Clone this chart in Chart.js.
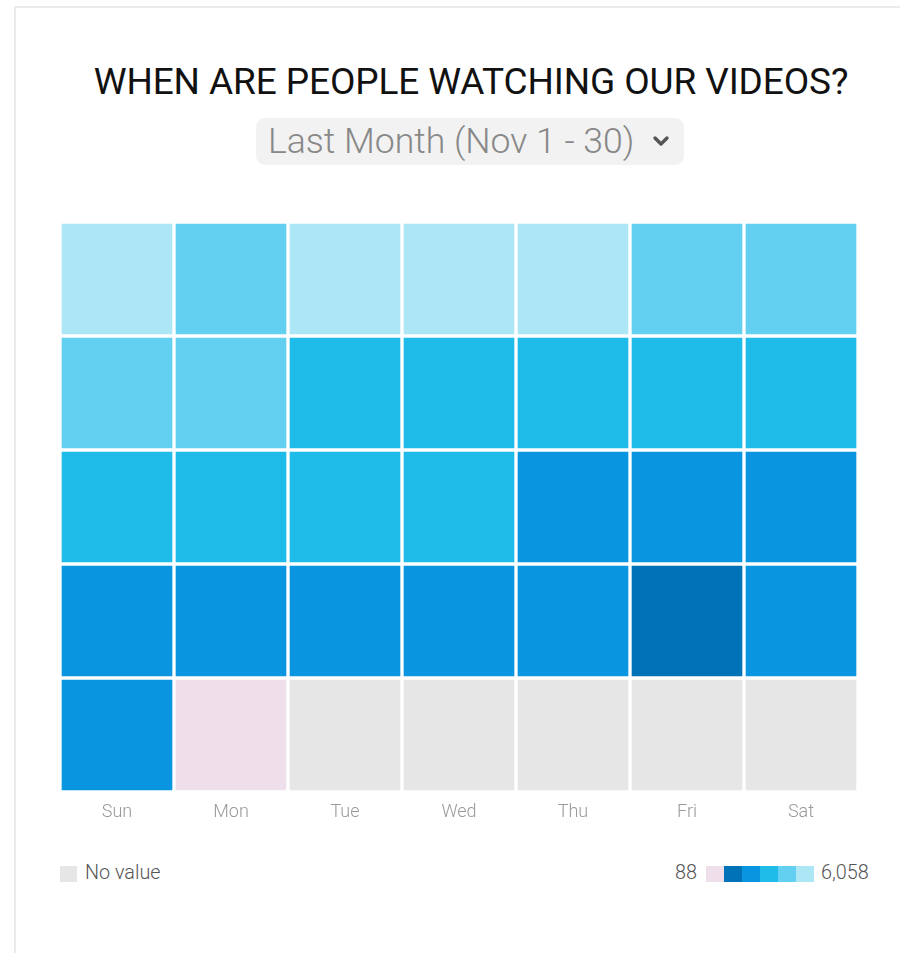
<!DOCTYPE html>
<html>
<head>
<meta charset="utf-8">
<script src="https://cdn.jsdelivr.net/npm/chart.js@4"></script>
<style>
  html, body { margin:0; padding:0; width:900px; height:953px; overflow:hidden; background:#fff; font-family: Roboto, "Noto Sans", sans-serif; }
  #frame { position:absolute; left:14px; top:6px; width:1000px; height:1000px; border-left:2px solid #ebebeb; border-top:2px solid #ebebeb; box-sizing:border-box; }
  #title { position:absolute; left:0; width:942px; top:58px; text-align:center; font-size:37px; font-weight:400; color:#111; line-height:48px; letter-spacing:-0.1px; }
  #dd { position:absolute; left:256px; top:118px; width:428px; height:47px; background:#f2f2f2; border-radius:9px; }
  #ddtext { position:absolute; left:12px; top:0; line-height:46px; font-size:35.6px; font-weight:300; color:#888; white-space:nowrap; }
  #ddchev { position:absolute; left:395px; top:17px; }
  #chartwrap { position:absolute; left:0; top:200px; width:900px; height:640px; }
  .leg { position:absolute; top:861px; font-size:19.8px; font-weight:300; color:#555; line-height:24px; white-space:nowrap; }
  .sw { position:absolute; top:866px; height:16px; }
</style>
</head>
<body>
<div id="frame"></div>
<div id="title">WHEN ARE PEOPLE WATCHING OUR VIDEOS?</div>
<div id="dd"><span id="ddtext">Last Month (Nov 1 - 30)</span>
  <svg id="ddchev" width="20" height="13" viewBox="0 0 20 13"><polyline points="4,3 10,9 16,3" fill="none" stroke="#555" stroke-width="3.4" stroke-linecap="round" stroke-linejoin="round"/></svg>
</div>
<div id="chartwrap"><canvas id="c" width="900" height="640"></canvas></div>
<div id="legNo"></div>
<div id="legScale"></div>
<script>
// ---- data ----
const days = ['Sun', 'Mon', 'Tue', 'Wed', 'Thu', 'Fri', 'Sat'];
const weekLabels = ['Nov 1-7', 'Nov 8-14', 'Nov 15-21', 'Nov 22-28', 'Nov 29-30'];
const week1 = [5620, 4710, 6058, 5480, 5230, 4590, 4420];
const week2 = [4380, 4150, 3890, 3760, 3640, 3820, 3710];
const week3 = [3450, 3380, 3560, 3290, 2870, 2960, 2740];
const week4 = [2610, 2480, 2550, 2390, 2660, 1720, 2530];
const week5 = [2290, 88, null, null, null, null, null];
const binThresholds = [1083, 2078, 3073, 4068, 5063];
const binColors = ['#EEDFEA', '#0073B8', '#0A95E0', '#1FBCE9', '#63D0F1', '#ADE7F6'];
const noValueColor = '#E6E6E6';
const minLabel = '88';
const maxLabel = '6,058';
const noValueLabel = 'No value';

// ---- helpers ----
function colorFor(v) {
  if (v === null || v === undefined) return noValueColor;
  let i = 0;
  while (i < binThresholds.length && v >= binThresholds[i]) i++;
  return binColors[i];
}
const weeks = [week1, week2, week3, week4, week5];
const datasets = weeks.map((w, wi) => ({
  label: weekLabels[wi],
  data: days.map((d, di) => ({ x: d, y: 1, v: w[di] })),
  backgroundColor: w.map(colorFor),
  borderColor: '#ffffff',
  borderWidth: 2,
  borderSkipped: false,
  categoryPercentage: 1,
  barPercentage: 1,
  stack: 'cal'
}));

new Chart(document.getElementById('c'), {
  type: 'bar',
  data: { labels: days, datasets },
  options: {
    responsive: false,
    animation: false,
    events: [],
    layout: { padding: { left: 60, right: 42, top: 22, bottom: 0 } },
    plugins: { legend: { display: false }, tooltip: { enabled: false }, title: { display: false } },
    scales: {
      x: {
        stacked: true,
        grid: { display: false },
        border: { display: false },
        ticks: { color: '#999', padding: 2, font: { family: 'Roboto', size: 18, weight: 300 } },
        afterFit: (s) => { s.height = 48; }
      },
      y: {
        stacked: true,
        reverse: true,
        min: 0,
        max: weeks.length,
        display: false
      }
    }
  }
});

// ---- legend (HTML) ----
const legNo = document.getElementById('legNo');
legNo.innerHTML = '<div class="sw" style="left:60px;width:17px;background:' + noValueColor + '"></div>' +
  '<div class="leg" style="left:85px">' + noValueLabel + '</div>';
const legScale = document.getElementById('legScale');
let html = '<div class="leg" style="right:203px">' + minLabel + '</div>';
binColors.forEach((c, i) => {
  html += '<div class="sw" style="left:' + (706 + i * 18) + 'px;width:18px;background:' + c + '"></div>';
});
html += '<div class="leg" style="left:821px">' + maxLabel + '</div>';
legScale.innerHTML = html;
</script>
</body>
</html>
